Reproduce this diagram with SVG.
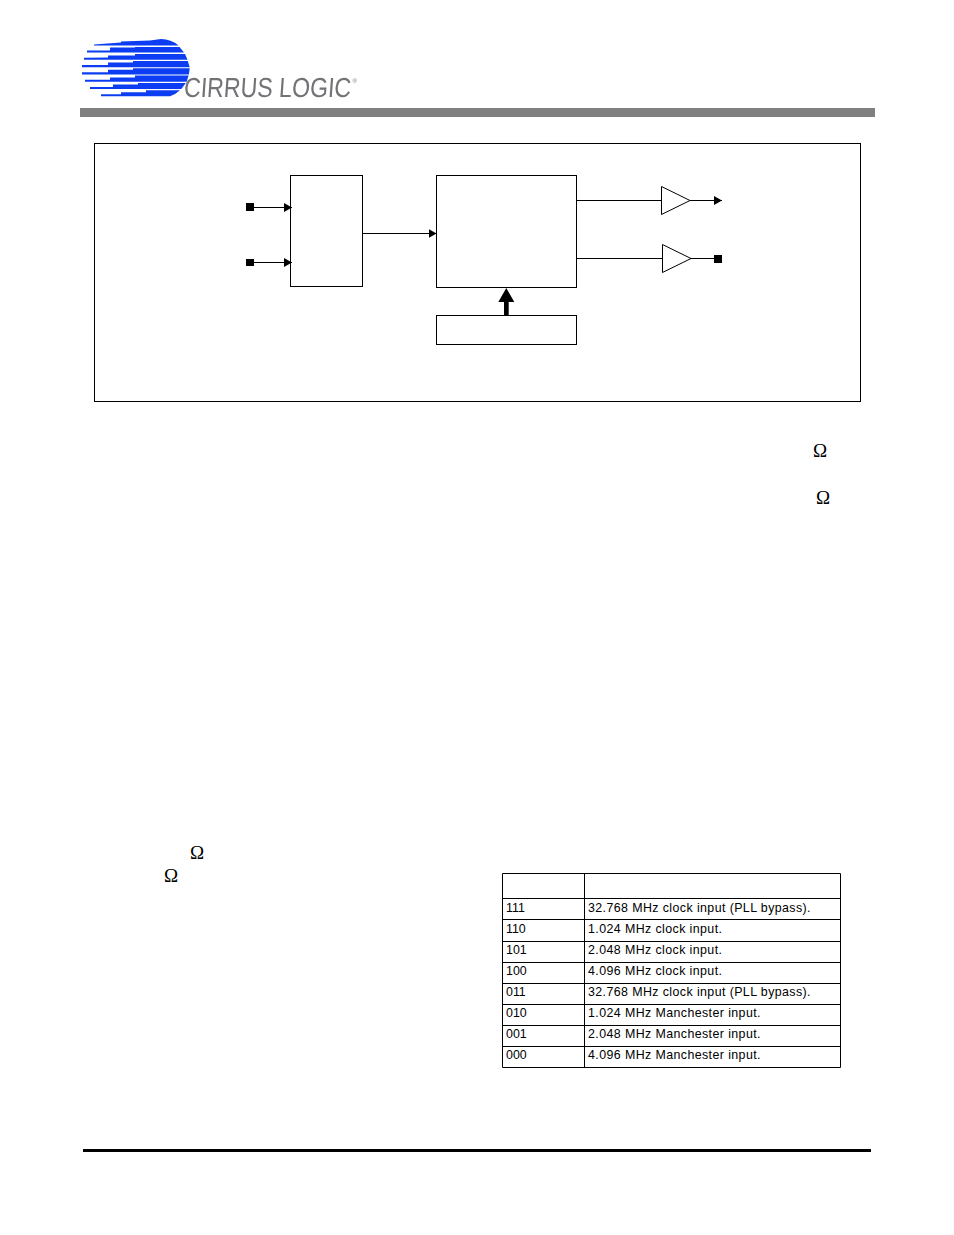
<svg xmlns="http://www.w3.org/2000/svg" width="954" height="1235" viewBox="0 0 954 1235">
<style>
.b{fill:#fff;stroke:#000;stroke-width:1}
.l{fill:none;stroke:#000;stroke-width:1}
.k{fill:#000;stroke:none}
.lb{fill:#0a3cf2;stroke:none}
.t{font-family:"Liberation Sans",Arial,sans-serif;font-size:12.4px;fill:#000}
.d{letter-spacing:.41px}
.o{font-family:"Liberation Serif","Times New Roman",serif;font-size:19px;fill:#000}
</style>
<defs>
<marker id="ah" markerUnits="userSpaceOnUse" markerWidth="8" markerHeight="9" refX="8" refY="4.5" orient="auto"><path d="M0 0L8 4.5L0 9Z" fill="#000"/></marker>
<filter id="soft" x="-5%" y="-5%" width="110%" height="110%"><feGaussianBlur stdDeviation="0.25"/></filter>
</defs>
<rect width="954" height="1235" fill="#fff"/>
<g id="logo" filter="url(#soft)">
<path class="lb" d="M94 45.5L94 44.4L121 42.5L121 41.5L150 40.5L161 39Q171 39 178.5 45.5Z"/>
<path class="lb" d="M87 52.6L87 50.6L110 50.4L110 47.6L135 47.6L135 47L179.5 47L184 52.6Z"/>
<path class="lb" d="M84 59.8L84 57.8L108 57.6L108 55.4L135 55.4L135 53.9L185 53.9L187.5 59.8Z"/>
<path class="lb" d="M82 67.2L82 65.1L108 64.9L108 62.4L133 62.4L133 60.9L187.8 60.9L189.7 67.2Z"/>
<path class="lb" d="M82 74.4L82 72.2L108 72.2L108 69.8L133 69.8L133 68.3L189.7 68.3L188.9 74.4Z"/>
<path class="lb" d="M85 81.8L85 79.8L110 79.8L110 77.4L135 77.4L135 75.6L188.6 75.6L186.6 81.8Z"/>
<path class="lb" d="M90 89L90 87L113 87L113 84.6L138 84.6L138 83L185.8 83L181.3 89Z"/>
<path class="lb" d="M101 96.3L101 94.2L121 94.2L121 92.2L146 92.2L146 90.2L180 90.2Q176 94 170 96.3Z"/>
<text transform="translate(183.5 96.8) skewX(-4)" font-family="Liberation Sans,Arial,sans-serif" font-size="27.5" fill="#727376" textLength="167" lengthAdjust="spacingAndGlyphs">CIRRUS LOGIC</text>
<text x="352.5" y="83" font-family="Liberation Sans,Arial,sans-serif" font-size="6" fill="#727376">®</text>
</g>
<rect id="header-bar" x="80" y="108" width="795" height="9" fill="#808080"/>
<rect id="frame" class="l" x="94.5" y="143.5" width="766" height="258"/>
<g id="node-input-a"><rect class="k" x="246" y="203" width="8" height="8"/></g>
<g id="node-input-b"><rect class="k" x="246" y="259" width="8" height="7"/></g>
<g id="node-mux"><rect class="b" x="290.5" y="175.5" width="72" height="111"/></g>
<g id="node-pll"><rect class="b" x="436.5" y="175.5" width="140" height="112"/></g>
<g id="node-ctrl"><rect class="b" x="436.5" y="315.5" width="140" height="29"/></g>
<g id="node-buf-a"><path class="b" d="M661.5 186.5L661.5 214.5L690 200.5Z"/></g>
<g id="node-buf-b"><path class="b" d="M662.5 244.5L662.5 272.5L691 258.5Z"/></g>
<g id="node-output-b"><rect class="k" x="714" y="255" width="8" height="8"/></g>
<g id="connectors">
<path class="l" d="M254 207.5H292" marker-end="url(#ah)"/>
<path class="l" d="M254 262.5H292" marker-end="url(#ah)"/>
<path class="l" d="M362.5 233.5H436.5" marker-end="url(#ah)"/>
<path class="l" d="M576.5 200.5H661.5"/>
<path class="l" d="M576.5 258.5H662.5"/>
<path class="l" d="M690 200.5H722" marker-end="url(#ah)"/>
<path class="l" d="M691 258.5H714"/>
<path class="k" d="M504 315V302H498.3L506.3 288L514.3 302H508.7V315Z"/>
</g>
<g id="omegas">
<text class="o" x="813" y="457">Ω</text>
<text class="o" x="816" y="504">Ω</text>
<text class="o" x="190" y="859">Ω</text>
<text class="o" x="164" y="882">Ω</text>
</g>
<g id="table">
<path class="l" d="M502.5 873.5H840.5V1067.5H502.5ZM584.5 873.5V1067.5M502.5 898.5H840.5M502.5 919.5H840.5M502.5 941.5H840.5M502.5 962.5H840.5M502.5 983.5H840.5M502.5 1004.5H840.5M502.5 1025.5H840.5M502.5 1046.5H840.5"/>
<text class="t" x="506" y="912">111</text><text class="t d" x="588" y="912">32.768 MHz clock input (PLL bypass).</text>
<text class="t" x="506" y="933">110</text><text class="t d" x="588" y="933">1.024 MHz clock input.</text>
<text class="t" x="506" y="954">101</text><text class="t d" x="588" y="954">2.048 MHz clock input.</text>
<text class="t" x="506" y="975">100</text><text class="t d" x="588" y="975">4.096 MHz clock input.</text>
<text class="t" x="506" y="996">011</text><text class="t d" x="588" y="996">32.768 MHz clock input (PLL bypass).</text>
<text class="t" x="506" y="1017">010</text><text class="t d" x="588" y="1017">1.024 MHz Manchester input.</text>
<text class="t" x="506" y="1038">001</text><text class="t d" x="588" y="1038">2.048 MHz Manchester input.</text>
<text class="t" x="506" y="1059">000</text><text class="t d" x="588" y="1059">4.096 MHz Manchester input.</text>
</g>
<rect id="footer-rule" x="83" y="1149" width="788" height="3" fill="#000"/>
</svg>
